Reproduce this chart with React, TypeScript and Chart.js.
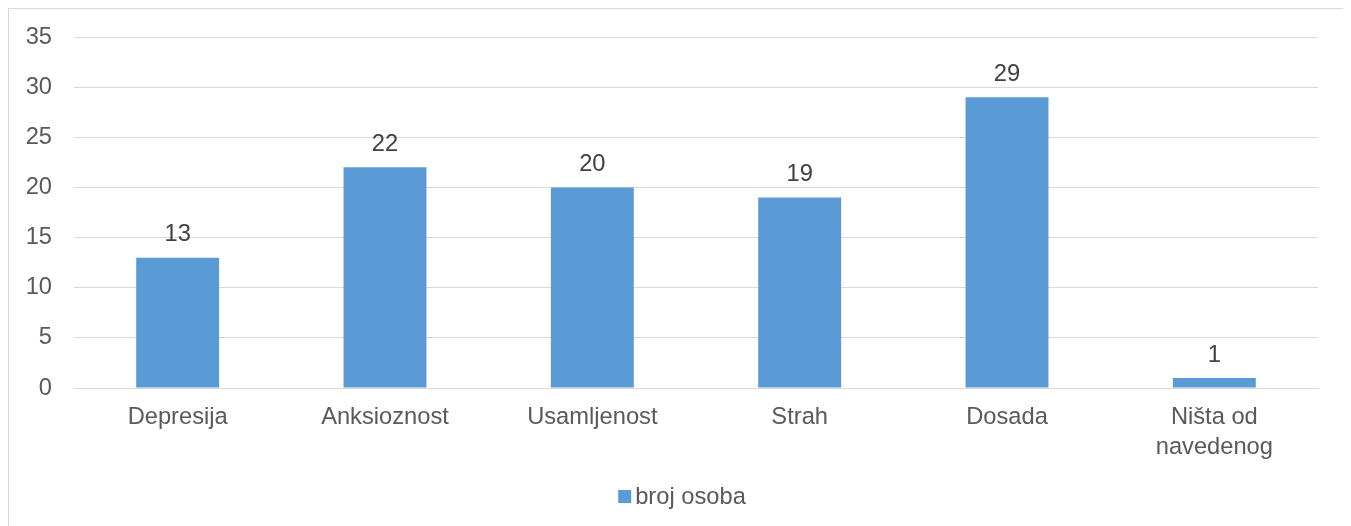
import { useEffect, useRef } from 'react';
import { Chart, registerables } from 'chart.js';

Chart.register(...registerables);

const categories: (string | string[])[] = [
  'Depresija',
  'Anksioznost',
  'Usamljenost',
  'Strah',
  'Dosada',
  ['Ništa od', 'navedenog'],
];
const seriesLabel = 'broj osoba';
const seriesValues = [13, 22, 20, 19, 29, 1];
const yMin = 0;
const yMax = 35;
const yStep = 5;

const FONT = '"Liberation Sans", Arial, sans-serif';
const BAR_COLOR = '#5B9BD5';
const AXIS_TEXT = '#595959';
const LABEL_TEXT = '#404040';
const GRID = '#D9D9D9';
const FS = 23.7;

const dataLabelsPlugin = {
  id: 'dataLabels',
  afterDatasetsDraw(chart: any) {
    const ctx = chart.ctx;
    ctx.save();
    ctx.font = `${FS}px ${FONT}`;
    ctx.fillStyle = LABEL_TEXT;
    ctx.textAlign = 'center';
    ctx.textBaseline = 'middle';
    chart.data.datasets.forEach((ds: any, i: number) => {
      const meta = chart.getDatasetMeta(i);
      meta.data.forEach((el: any, j: number) => {
        const { x, y } = el.getProps(['x', 'y'], true);
        ctx.fillText(String(ds.data[j]), x, y - 23);
      });
    });
    ctx.restore();
  },
};

const legendPlugin = {
  id: 'customLegend',
  afterDraw(chart: any) {
    const ctx = chart.ctx;
    const ds = chart.data.datasets[0];
    ctx.save();
    ctx.font = `${FS}px ${FONT}`;
    const text = ds.label as string;
    const tw = ctx.measureText(text).width;
    const box = 13;
    const gap = 4;
    const total = box + gap + tw;
    const cy = chart.height - 30;
    const x0 = chart.width / 2 - total / 2 + 5;
    ctx.fillStyle = ds.backgroundColor;
    ctx.fillRect(x0, cy - 7, box, box);
    ctx.fillStyle = AXIS_TEXT;
    ctx.textAlign = 'left';
    ctx.textBaseline = 'middle';
    ctx.fillText(text, x0 + box + gap, cy);
    ctx.restore();
  },
};

export default function App() {
  const canvasRef = useRef<HTMLCanvasElement | null>(null);

  useEffect(() => {
    if (!canvasRef.current) return;
    const chart = new Chart(canvasRef.current, {
      type: 'bar',
      data: {
        labels: categories as any,
        datasets: [
          {
            label: seriesLabel,
            data: seriesValues,
            backgroundColor: BAR_COLOR,
            borderWidth: 0,
            barPercentage: 0.4,
            categoryPercentage: 1,
          },
        ],
      },
      options: {
        responsive: false,
        maintainAspectRatio: false,
        animation: false,
        devicePixelRatio: 1,
        layout: { padding: { top: 28, right: 27, left: 0, bottom: 59 } },
        plugins: {
          legend: { display: false },
          tooltip: { enabled: false },
          title: { display: false },
        },
        scales: {
          x: {
            grid: { display: false, drawTicks: false },
            border: { display: true, color: GRID, width: 1 },
            ticks: {
              color: AXIS_TEXT,
              font: { family: FONT, size: FS, lineHeight: 1.25 },
              padding: 15,
              maxRotation: 0,
              autoSkip: false,
            },
            afterFit(scale: any) {
              scale.height = 80;
            },
          },
          y: {
            min: yMin,
            max: yMax,
            ticks: {
              stepSize: yStep,
              color: AXIS_TEXT,
              font: { family: FONT, size: FS },
              padding: 22,
            },
            grid: { color: GRID, lineWidth: 1, drawTicks: false },
            border: { display: false },
            afterFit(scale: any) {
              scale.width = 65;
              scale.paddingTop = 14;
              scale.paddingBottom = 14;
            },
          },
        },
      },
      plugins: [dataLabelsPlugin, legendPlugin],
    });
    return () => chart.destroy();
  }, []);

  return (
    <div
      style={{
        width: 1336,
        height: 530,
        border: '1px solid #D9D9D9',
        background: '#fff',
        overflow: 'hidden',
      }}
    >
      <canvas ref={canvasRef} width={1336} height={518} style={{ display: 'block' }} />
    </div>
  );
}
